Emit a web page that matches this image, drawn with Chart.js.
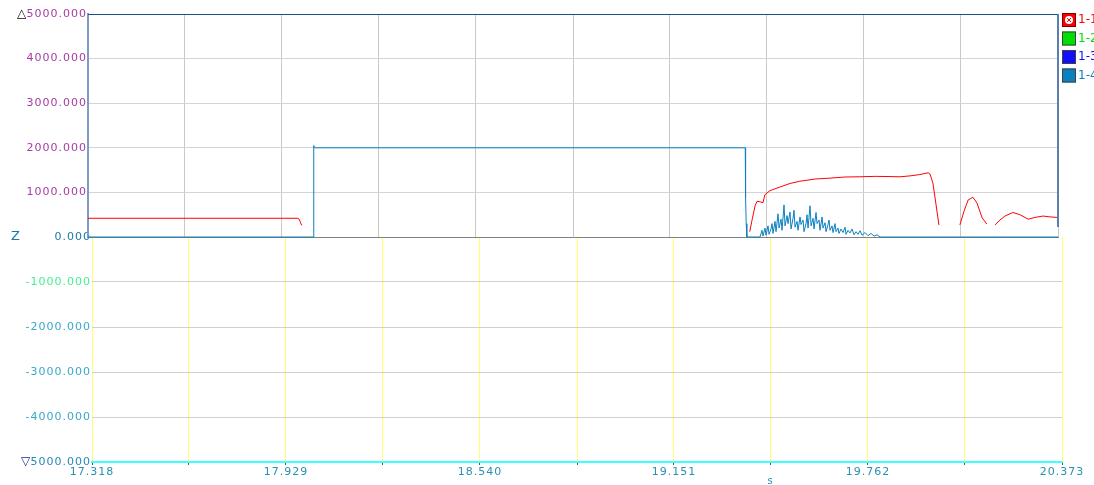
<!DOCTYPE html>
<html>
<head>
<meta charset="utf-8">
<script src="https://cdn.jsdelivr.net/npm/chart.js@4.4.0/dist/chart.umd.min.js"></script>
<style>
 html, body { margin:0; padding:0; background:#fff; overflow:hidden; }
 #wrap { position:relative; width:1094px; height:485px; }
 #topchart { position:absolute; left:0; top:0; z-index:2; }
 #bottomchart { position:absolute; left:0; top:225px; z-index:1; }
</style>
</head>
<body>
<div id="wrap">
 <canvas id="topchart" width="1094" height="260"></canvas>
 <canvas id="bottomchart" width="1094" height="260"></canvas>
</div>
<script>
(function () {
 "use strict";

	/*----------------------------------------*/
	/*  data
	/*----------------------------------------*/
	var seriesNames = ["1-1", "1-2", "1-3", "1-4"];

	var xTicks = [17.318, 17.6235, 17.929, 18.2345, 18.540, 18.8455, 19.151, 19.4565, 19.762, 20.0675, 20.373];
	var xLabels = ["17.318", "", "17.929", "", "18.540", "", "19.151", "", "19.762", "", "20.373"];

	var topYTicks = [0, 1000, 2000, 3000, 4000, 5000];
	var topYLabels = ["", "1000.000", "2000.000", "3000.000", "4000.000", "5000.000"];
	var bottomYTicks = [-5000, -4000, -3000, -2000, -1000, 0];
	var bottomYLabels = ["5000.000", "-4000.000", "-3000.000", "-2000.000", "-1000.000", "0.000"];

	// 1-1
	var s1Time = [17.318, 17.979, 17.983, 17.987, 17.991, 17.995,
		19.402, 19.410, 19.419, 19.425, 19.434, 19.444, 19.450, 19.466, 19.497, 19.529, 19.560,
		19.608, 19.655, 19.702, 19.749, 19.797, 19.844, 19.875, 19.907, 19.938, 19.964, 19.970,
		19.979, 19.989, 19.998, 20.002,
		20.064, 20.078, 20.090, 20.105, 20.118, 20.134, 20.149, 20.160,
		20.175, 20.190, 20.206, 20.231, 20.253, 20.279, 20.301, 20.326, 20.348, 20.370];
	var s1Value = [420, 420, 400, 330, 260, null,
		120, 400, 700, 800, 790, 770, 950, 1040, 1120, 1200, 1250,
		1300, 1320, 1345, 1350, 1360, 1355, 1350, 1370, 1400, 1440, 1410,
		1210, 720, 270, null,
		270, 600, 830, 890, 760, 430, 290, null,
		270, 380, 470, 550, 500, 400, 440, 470, 450, 440];

	// 1-2, 1-3
	var s2Time = [];
	var s2Value = [];
	var s3Time = [];
	var s3Value = [];

	// 1-4
	var s4Time = [17.318, 18.028, 18.029, 18.031, 19.388, 19.389, 19.391, 19.393,
		19.4345, 19.4408, 19.4440, 19.4503, 19.4534, 19.4597, 19.4629, 19.4692, 19.4723, 19.4755,
		19.4818, 19.4849, 19.4912, 19.4944, 19.5007, 19.5038, 19.5101, 19.5133, 19.5196, 19.5227,
		19.5290, 19.5322, 19.5385, 19.5416, 19.5448, 19.5511, 19.5542, 19.5605, 19.5637, 19.5700,
		19.5731, 19.5794, 19.5826, 19.5857, 19.5920, 19.5952, 19.6015, 19.6046, 19.6109, 19.6141,
		19.6204, 19.6235, 19.6298, 19.6330, 19.6393, 19.6424, 19.6487, 19.6519, 19.6550, 19.6613,
		19.6645, 19.6708, 19.6739, 19.6802, 19.6834, 19.6897, 19.6960, 19.7023, 19.7054, 19.7117,
		19.7180, 19.7243, 19.7306, 19.7369, 19.7432, 19.7495, 19.7558, 19.7653, 19.7747, 19.7842,
		19.7936, 19.8031, 19.8125, 20.373];
	var s4Value = [0, 0, 2050, 2000, 2000, 900, 300, 0,
		0, 150, 20, 200, 40, 250, 60, 180, 300, 80,
		350, 120, 520, 200, 400, 150, 720, 250, 480, 300,
		560, 180, 420, 600, 220, 350, 150, 450, 280, 380,
		120, 300, 500, 200, 700, 250, 420, 180, 550, 300,
		380, 150, 450, 200, 320, 120, 280, 380, 150, 250,
		100, 300, 120, 200, 80, 180, 100, 220, 60, 150,
		90, 180, 50, 120, 60, 140, 40, 100, 30, 80,
		20, 50, 0, 0];

	var seriesColors = ['#ff0000', '#00e000', '#1010ff', '#0a80c0'];
	var bottomYColors = ['#2888b8', '#3aa8c8', '#3aa8c8', '#3aa8c8', '#40f090', '#1878a8'];

	function toPoints(t, v) {
		return t.map(function (x, i) { return { x: x, y: v[i] }; });
	}

	var allTime = [s1Time, s2Time, s3Time, s4Time];
	var allValue = [s1Value, s2Value, s3Value, s4Value];

	var baseFont = { family: 'DejaVu Sans', size: 11 };

	/*----------------------------------------*/
	/*  top pane decorations + legend
	/*----------------------------------------*/
	var topDecor = {
		id: 'topDecor',
		beforeDraw: function (chart) { chart.ctx.letterSpacing = '1px'; },
		afterDraw: function (chart) {
			var a = chart.chartArea, c = chart.ctx;
			c.save();
			c.strokeStyle = '#1c4f8c';
			c.lineWidth = 1;
			c.beginPath(); c.moveTo(a.left, a.top + 0.5); c.lineTo(a.right, a.top + 0.5); c.stroke();
			c.strokeStyle = '#5a7fae';
			c.lineWidth = 2;
			c.beginPath(); c.moveTo(a.right, a.top); c.lineTo(a.right, a.bottom - 10); c.stroke();

			c.letterSpacing = '0px';
			c.fillStyle = '#000';
			c.font = '12px "DejaVu Sans"';
			c.textAlign = 'left';
			c.textBaseline = 'middle';
			c.fillText('\u25B3', 17, chart.scales.y.getPixelForValue(5000));

			// legend
			chart.data.datasets.forEach(function (ds, i) {
				var bx = 1062, by = 13 + i * 18.5;
				c.fillStyle = ds.borderColor;
				c.fillRect(bx, by, 14, 14);
				c.strokeStyle = i === 0 ? '#800000' : '#404040';
				c.lineWidth = 1;
				c.strokeRect(bx + 0.5, by + 0.5, 13, 13);
				if (i === 0) {
					c.fillStyle = '#fff';
					c.beginPath(); c.arc(bx + 7, by + 7, 4, 0, Math.PI * 2); c.fill();
					c.strokeStyle = '#ff0000';
					c.beginPath();
					c.moveTo(bx + 5, by + 5); c.lineTo(bx + 9, by + 9);
					c.moveTo(bx + 9, by + 5); c.lineTo(bx + 5, by + 9);
					c.stroke();
				}
				c.fillStyle = ds.borderColor;
				c.font = '12px "DejaVu Sans"';
				c.fillText(ds.label, 1078, by + 7);
			});
			c.restore();
		}
	};

	/*----------------------------------------*/
	/*  top pane
	/*----------------------------------------*/
	var ctx = document.getElementById("topchart");
	var topchart = new Chart(ctx, {
		type: 'line',
		data: {
			datasets: seriesNames.map(function (name, i) {
				return {
					label: name,
					data: toPoints(allTime[i], allValue[i]),
					borderColor: seriesColors[i],
					backgroundColor: seriesColors[i],
					borderWidth: 1,
					pointRadius: 0,
					tension: 0,
					spanGaps: false,
					clip: 3
				};
			})
		},
		options: {
			responsive: false,
			animation: false,
			layout: { padding: { top: 14, right: 36, bottom: 23, left: 0 } },
			plugins: { legend: { display: false }, tooltip: { enabled: false } },
			scales: {
				x: {
					type: 'linear',
					min: 17.318,
					max: 20.373,
					afterBuildTicks: function (s) { s.ticks = xTicks.map(function (v) { return { value: v }; }); },
					afterFit: function (s) { s.height = 0; },
					ticks: { display: false },
					grid: { color: '#c8c8c8', drawTicks: false },
					border: { color: '#808080', width: 1 }
				},
				y: {
					min: 0,
					max: 5000,
					afterBuildTicks: function (s) { s.ticks = topYTicks.map(function (v) { return { value: v }; }); },
					afterFit: function (s) { s.width = 88; },
					ticks: {
						color: '#a43ca4',
						font: baseFont,
						padding: 1,
						callback: function (v, i) { return topYLabels[i]; }
					},
					grid: { color: '#d4d4d4', drawTicks: false },
					border: { color: '#7f9cc4', width: 2 }
				}
			}
		},
		plugins: [topDecor]
	});

	/*----------------------------------------*/
	/*  bottom pane
	/*----------------------------------------*/
	var bottomDecor = {
		id: 'bottomDecor',
		beforeDraw: function (chart) { chart.ctx.letterSpacing = '1px'; },
		afterDraw: function (chart) {
			var c = chart.ctx;
			c.save();
			c.letterSpacing = '0px';
			c.textAlign = 'left';
			c.textBaseline = 'middle';
			c.fillStyle = '#1878a8';
			c.font = '13px "DejaVu Sans"';
			c.fillText('Z', 11, chart.scales.y.getPixelForValue(0));
			c.fillStyle = '#1a1aa0';
			c.font = '12px "DejaVu Sans"';
			c.fillText('\u25BD', 21, chart.scales.y.getPixelForValue(-5000));
			c.fillStyle = '#2890b0';
			c.font = '10px "DejaVu Sans"';
			c.textAlign = 'center';
			c.fillText('s', 770, 256);
			c.restore();
		}
	};

	var ctx = document.getElementById("bottomchart");
	var bottomchart = new Chart(ctx, {
		type: 'line',
		data: { datasets: [] },
		options: {
			responsive: false,
			animation: false,
			layout: { padding: { top: 12, right: 32, bottom: 0, left: 0 } },
			plugins: { legend: { display: false }, tooltip: { enabled: false } },
			scales: {
				x: {
					type: 'linear',
					min: 17.318,
					max: 20.373,
					afterBuildTicks: function (s) { s.ticks = xTicks.map(function (v) { return { value: v }; }); },
					afterFit: function (s) { s.height = 23; },
					ticks: {
						color: '#2890b0',
						font: baseFont,
						padding: 1,
						maxRotation: 0,
						autoSkip: false,
						callback: function (v, i) { return xLabels[i]; }
					},
					grid: { color: '#ffff70', tickColor: '#3050b0', tickLength: 3 },
					border: { color: '#40ffff', width: 2 }
				},
				y: {
					min: -5000,
					max: 0,
					afterBuildTicks: function (s) { s.ticks = bottomYTicks.map(function (v) { return { value: v }; }); },
					afterFit: function (s) { s.width = 92; },
					ticks: {
						color: function (c) { return bottomYColors[c.index]; },
						font: baseFont,
						padding: 1,
						callback: function (v, i) { return bottomYLabels[i]; }
					},
					grid: {
						color: function (c) { return c.tick && c.tick.value === 0 ? 'rgba(0,0,0,0)' : '#d0d0d0'; },
						drawTicks: false
					},
					border: { display: false }
				}
			}
		},
		plugins: [bottomDecor]
	});

})();
</script>
</body>
</html>
